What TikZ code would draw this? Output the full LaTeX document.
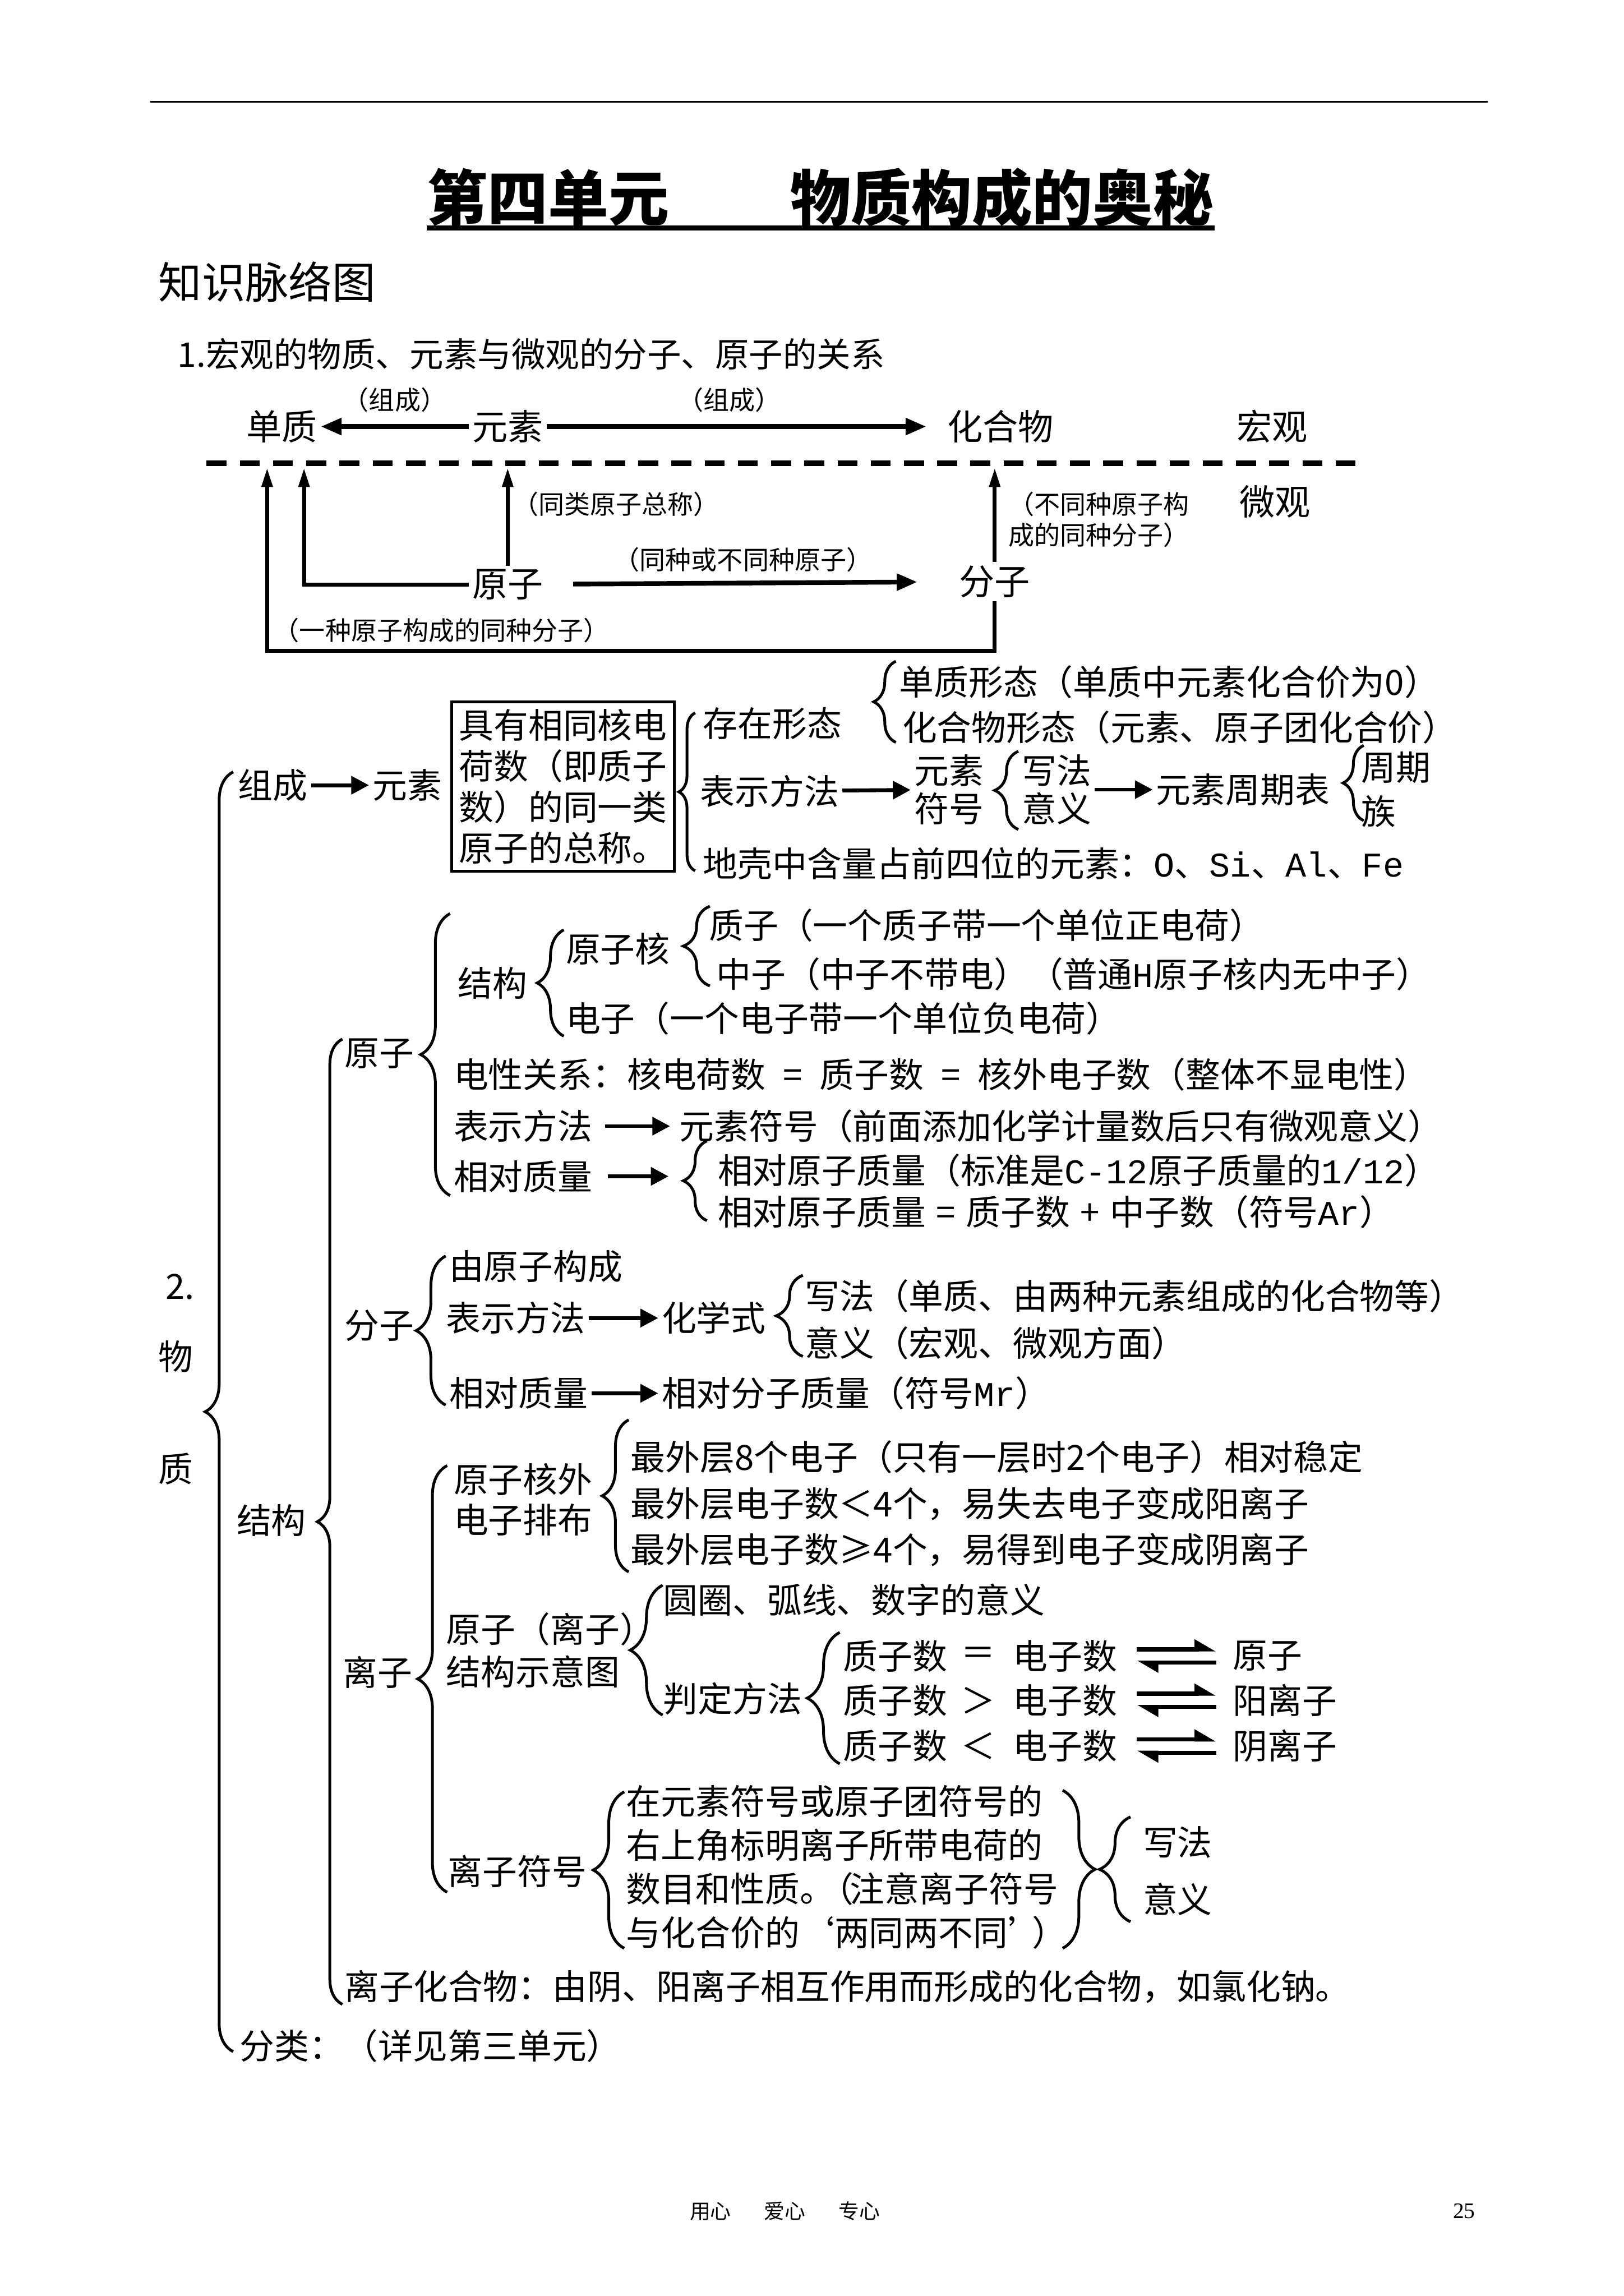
\documentclass[tikz,border=0pt]{standalone}
\usepackage{fontspec}
\setmainfont{Noto Sans CJK SC}
\setmonofont{Liberation Mono}
\newfontfamily\tms{Liberation Serif}
\usepackage{tikz}
\usetikzlibrary{arrows, arrows.meta, positioning, decorations.pathreplacing}

\begin{document}
\begin{tikzpicture}[x=0.5pt,y=-0.5pt,inner sep=1pt,>={Triangle[length=6pt,width=6pt]}]
    \tikzstyle{txt}=[anchor=west,font=\fontsize{11.75}{14}\selectfont]
    \tikzstyle{word}=[font=\fontsize{12}{14}\selectfont]
    \tikzstyle{lbl}=[font=\fontsize{8.75}{10.5}\selectfont]
    \tikzstyle{go}=[->,line width=1.3pt]
    \tikzstyle{fat}=[-{Triangle[length=7pt,width=5.5pt]},line width=1.6pt]
    \tikzstyle{up}=[-{Triangle[length=6.5pt,width=3.6pt]},line width=1.3pt]
    \tikzstyle{eq}=[-{Triangle[harpoon,length=6pt,width=6.5pt]},line width=1.4pt]
    \tikzstyle{brc}=[decorate,line width=0.95pt]

    \useasboundingbox (0,0) rectangle (1100,1555.6);
    \fill[white] (0,0) rectangle (1100,1555.6);

    \draw[line width=0.6pt] (102,69) -- (1008,69);
    \node[font=\fontsize{20.5}{24}\selectfont\bfseries,inner sep=0] (T0) at (556,134) {第四单元\hspace{2em}物质构成的奥秘};
    \draw[line width=1.8pt] (T0.south west) -- (T0.south east);
    \node[anchor=west,font=\fontsize{14.7}{17}\selectfont] (T1) at (105,191) {知识脉络图};
    \node[anchor=west,font=\fontsize{11.5}{14}\selectfont] (T2) at (118,240) {1.宏观的物质、元素与微观的分子、原子的关系};

    \node[word] (A0) at (191,289) {单质};
    \node[word] (A1) at (344,289) {元素};
    \node[word] (A2) at (678,289) {化合物};
    \node[word] (A3) at (862,289) {宏观};
    \node[word] (B1) at (344,396) {原子};
    \node[word] (B2) at (674,394) {分子};
    \node[word] (B3) at (864,340) {微观};
    \coordinate (P0) at (181,317);
    \coordinate (P1) at (206,317);
    \coordinate (P2) at (344,317);
    \coordinate (P3) at (674,317);
    \coordinate (Q0) at (181,441);

    \draw[line width=1.9pt,dash pattern=on 6.75pt off 4.5pt] (140,314) -- (926,314);

    \path[fat]
    (A1) edge node[lbl,above=3pt] {（组成）} (A0)
    (A1) edge[shorten >=6pt] node[lbl,above=3pt,pos=0.46] {（组成）} (A2)
    (B1) edge[shorten <=9pt,shorten >=13pt] node[lbl,above=2pt,pos=0.48] {（同种或不同种原子）} (B2)
    ;
    \draw[up] (B1) -- node[lbl,anchor=west,pos=0.63] {（同类原子总称）} (P2);
    \draw[up] (B2) -- node[lbl,anchor=west,pos=0.45,align=left,xshift=3pt] {（不同种原子构\\成的同种分子）} (P3);
    \draw[up] (B1.west) -| (P1);
    \draw[up] (B2.south) |- (Q0) -- (P0);
    \node[lbl,anchor=west] (B4) at (183,427) {（一种原子构成的同种分子）};

    \draw[brc,decoration={brace,amplitude=9.5pt}] (158,1390) -- (158,523);
    \node[txt,anchor=center] (L1) at (122,872) {2.};
    \node[txt,anchor=center] (L2) at (119,919) {物};
    \node[txt,anchor=center] (L3) at (119,995) {质};

    \node[txt] (Z0) at (159,532) {组成};
    \node[txt] (Z1) at (250,532) {元素};
    \draw[go] (Z0) -- (Z1);
    \node[txt,draw,line width=1pt,align=left,inner sep=2.5pt,font=\fontsize{11.75}{13.85}\selectfont] (Z2) at (305,533) {具有相同核电\\荷数（即质子\\数）的同一类\\原子的总称。};
    \draw[brc,decoration={brace,amplitude=5.5pt}] (471,590) -- (471,483);
    \node[txt] (E0) at (474,490) {存在形态};
    \draw[brc,decoration={brace,amplitude=7.5pt}] (607,503) -- (607,448);
    \node[txt] (F0) at (607,462) {单质形态（单质中元素化合价为0）};
    \node[txt] (F1) at (609,493) {化合物形态（元素、原子团化合价）};
    \node[txt] (E1) at (472,536) {表示方法};
    \node[txt,align=left,font=\fontsize{11.75}{13}\selectfont] (E2) at (617,535) {元素\\符号};
    \draw[go] (E1) -- (E2);
    \draw[brc,decoration={brace,amplitude=8pt}] (690,562) -- (690,509);
    \node[txt,align=left,font=\fontsize{11.75}{13}\selectfont] (E3) at (690,535) {写法\\意义};
    \node[txt] (E4) at (781,535) {元素周期表};
    \draw[go] (E3) -- (E4);
    \draw[brc,decoration={brace,amplitude=7pt}] (924,556) -- (924,505);
    \node[txt,align=left,font=\fontsize{11.75}{15}\selectfont] (E5) at (920,535) {周期\\族};
    \node[txt] (E6) at (474,585) {地壳中含量占前四位的元素：{\ttfamily O}、{\ttfamily Si}、{\ttfamily Al}、{\ttfamily Fe}};

    \draw[brc,decoration={brace,amplitude=8.5pt}] (232,1358) -- (232,704);
    \node[txt] (L0) at (158,1030) {结构};

    \node[txt] (G0) at (231,714) {原子};
    \draw[brc,decoration={brace,amplitude=10pt}] (305,810) -- (305,619);
    \node[txt] (G1) at (308,666) {结构};
    \draw[brc,decoration={brace,amplitude=9pt}] (382,702) -- (382,630);
    \node[txt] (G2) at (381,643) {原子核};
    \draw[brc,decoration={brace,amplitude=9pt}] (481,668) -- (481,614);
    \node[txt] (H0) at (478,627) {质子（一个质子带一个单位正电荷）};
    \node[txt] (H1) at (483,660) {中子（中子不带电）（普通{\ttfamily H}原子核内无中子）};
    \node[txt] (H2) at (381,690) {电子（一个电子带一个单位负电荷）};
    \node[txt] (H3) at (305,728) {电性关系：核电荷数\hspace{.5em}=\hspace{.5em}质子数\hspace{.5em}=\hspace{.5em}核外电子数（整体不显电性）};
    \node[txt] (H4) at (305,763) {表示方法};
    \node[txt] (H5) at (458,763) {元素符号（前面添加化学计量数后只有微观意义）};
    \draw[go,shorten <=3pt,shorten >=2pt] (H4) -- (H5);
    \node[txt] (H6) at (305,797) {相对质量};
    \coordinate (R0) at (453,797);
    \draw[go,shorten <=4pt] (H6) -- (R0);
    \draw[brc,decoration={brace,amplitude=8pt}] (479,827) -- (479,773);
    \node[txt] (H7) at (484,793) {相对原子质量（标准是{\ttfamily C-12}原子质量的{\ttfamily 1/12}）};
    \node[txt] (H8) at (484,821) {相对原子质量\hspace{.3em}=\hspace{.3em}质子数\hspace{.3em}+\hspace{.3em}中子数（符号{\ttfamily Ar}）};

    \node[txt] (K0) at (231,898) {分子};
    \draw[brc,decoration={brace,amplitude=10pt}] (302,952) -- (302,851);
    \node[txt] (K1) at (302,858) {由原子构成};
    \node[txt] (K2) at (300,893) {表示方法};
    \node[txt] (K3) at (446,893) {化学式};
    \draw[go] (K2) -- (K3);
    \draw[brc,decoration={brace,amplitude=9pt}] (544,919) -- (544,864);
    \node[txt] (K4) at (543,878) {写法（单质、由两种元素组成的化合物等）};
    \node[txt] (K5) at (543,910) {意义（宏观、微观方面）};
    \node[txt] (K6) at (302,944) {相对质量};
    \node[txt] (K7) at (446,944) {相对分子质量（符号{\ttfamily Mr}）};
    \draw[go] (K6) -- (K7);

    \node[txt] (M0) at (230,1133) {离子};
    \draw[brc,decoration={brace,amplitude=10pt}] (303,1282) -- (303,993);
    \node[txt,align=left,font=\fontsize{11.75}{13.5}\selectfont] (M1) at (305,1016) {原子核外\\电子排布};
    \draw[brc,decoration={brace,amplitude=9pt}] (426,1065) -- (426,962);
    \node[txt] (M2) at (425,987) {最外层8个电子（只有一层时2个电子）相对稳定};
    \node[txt] (M3) at (425,1019) {最外层电子数＜4个，易失去电子变成阳离子};
    \node[txt] (M4) at (425,1050) {最外层电子数≥4个，易得到电子变成阴离子};
    \node[txt,align=left,font=\fontsize{11.75}{14.5}\selectfont] (M5) at (300,1118) {原子（离子）\\结构示意图};
    \draw[brc,decoration={brace,amplitude=11pt}] (449,1162) -- (449,1074);
    \node[txt] (M6) at (447,1084) {圆圈、弧线、数字的意义};
    \node[txt] (M7) at (447,1151) {判定方法};
    \draw[brc,decoration={brace,amplitude=11pt}] (569,1195) -- (569,1106);

    \node[txt] (N0) at (569,1122) {质子数};
    \node[txt,anchor=center] (S0) at (663,1122) {＝};
    \node[txt] (N1) at (684,1122) {电子数};
    \node[txt] (N2) at (833,1122) {原子};
    \node[txt] (N3) at (569,1152) {质子数};
    \node[txt,anchor=center] (S1) at (663,1152) {＞};
    \node[txt] (N4) at (684,1152) {电子数};
    \node[txt] (N5) at (833,1152) {阳离子};
    \node[txt] (N6) at (569,1183) {质子数};
    \node[txt,anchor=center] (S2) at (663,1183) {＜};
    \node[txt] (N7) at (684,1183) {电子数};
    \node[txt] (N8) at (833,1183) {阴离子};
    \draw[eq,shorten <=5.5pt,shorten >=4.5pt] ([yshift=2.25pt]N1.east) -- ([yshift=2.25pt]N2.west);
    \draw[eq,shorten <=4.5pt,shorten >=5.5pt] ([yshift=-2.25pt]N2.west) -- ([yshift=-2.25pt]N1.east);
    \draw[eq,shorten <=5.5pt,shorten >=4.5pt] ([yshift=2.25pt]N4.east) -- ([yshift=2.25pt]N5.west);
    \draw[eq,shorten <=4.5pt,shorten >=5.5pt] ([yshift=-2.25pt]N5.west) -- ([yshift=-2.25pt]N4.east);
    \draw[eq,shorten <=5.5pt,shorten >=4.5pt] ([yshift=2.25pt]N7.east) -- ([yshift=2.25pt]N8.west);
    \draw[eq,shorten <=4.5pt,shorten >=5.5pt] ([yshift=-2.25pt]N8.west) -- ([yshift=-2.25pt]N7.east);

    \node[txt] (M8) at (301,1268) {离子符号};
    \draw[brc,decoration={brace,amplitude=10.5pt}] (423,1320) -- (423,1214);
    \node[txt,align=left,font=\fontsize{11.75}{14.85}\selectfont] (M9) at (422,1265) {在元素符号或原子团符号的\\右上角标明离子所带电荷的\\数目和性质。\hspace{-.45em}（\hspace{-.1em}注意离子符号\\与化合价的‘两同两不同’\hspace{-.3em}）};
    \draw[brc,decoration={brace,amplitude=11pt}] (720,1213) -- (720,1320);
    \draw[brc,decoration={brace,amplitude=10.5pt}] (766,1302) -- (766,1231);
    \node[txt] (M10) at (772,1248) {写法};
    \node[txt] (M11) at (772,1287) {意义};

    \node[txt] (M12) at (231,1346) {离子化合物：由阴、阳离子相互作用而形成的化合物，如氯化钠。};
    \node[txt] (M13) at (160,1386) {分类：（详见第三单元）};

    \node[anchor=west,font=\fontsize{7}{8}\selectfont] (W0) at (465,1498) {用心\hspace{1.6em}爱心\hspace{1.6em}专心};
    \node[anchor=center,font=\tms\fontsize{7.5}{9}\selectfont] (W1) at (992,1498) {25};
\end{tikzpicture}
\end{document}
